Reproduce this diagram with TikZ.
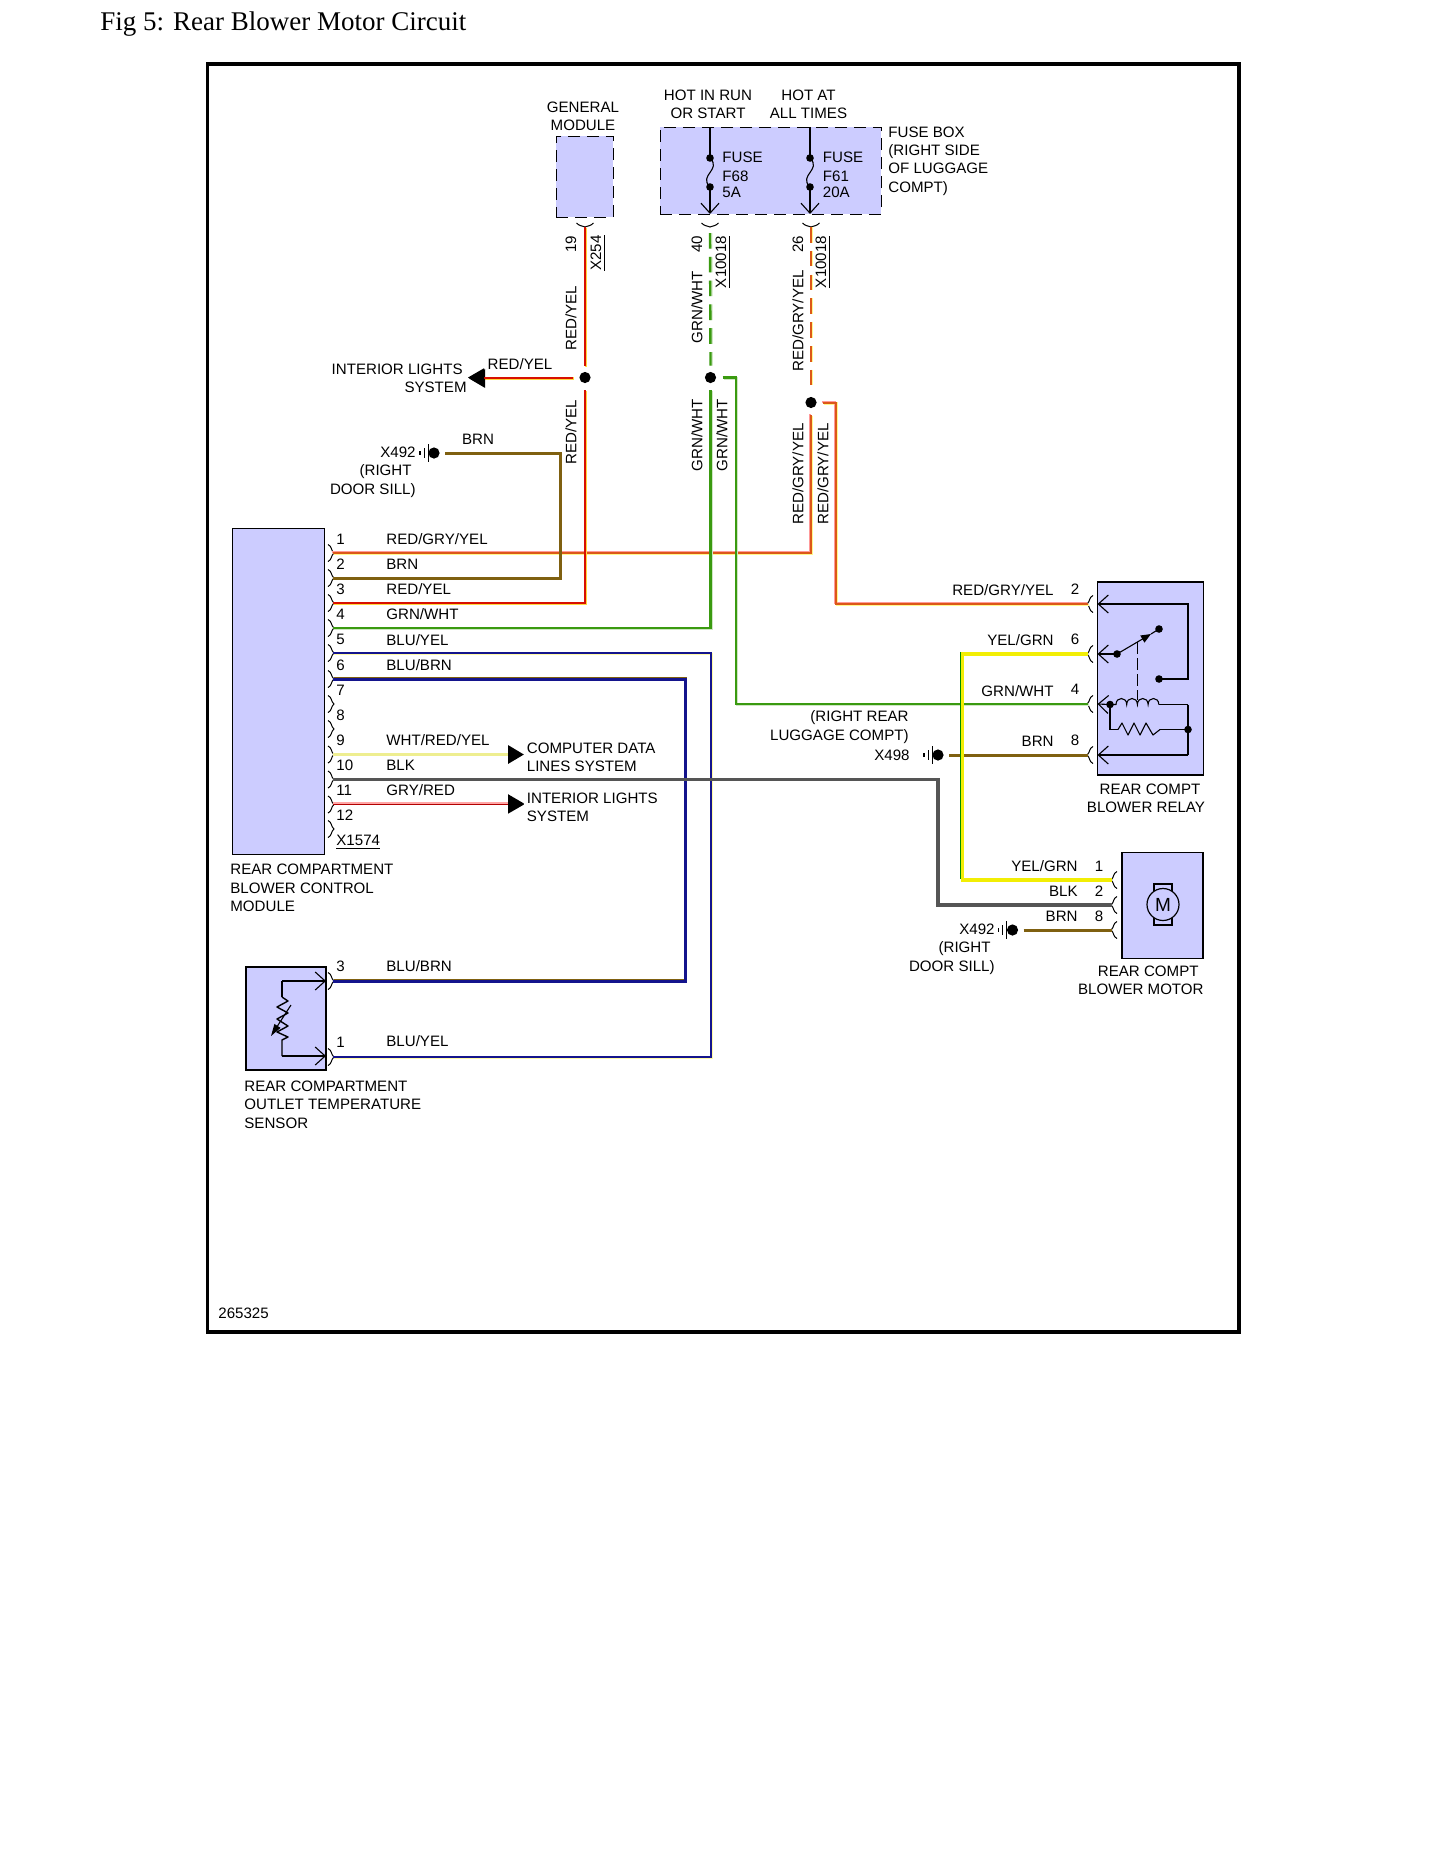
\documentclass[tikz,border=0pt]{standalone}
\usepackage{fontspec}
\setmainfont{Liberation Sans}
\newfontfamily\titlefont{Liberation Serif}
\usetikzlibrary{arrows.meta}

\definecolor{boxfill}{HTML}{CCCCFF}
\definecolor{cred}{HTML}{D81000}
\definecolor{cyel}{HTML}{FFD840}
\definecolor{corg}{HTML}{DC5818}
\definecolor{cbrn}{HTML}{7F6010}
\definecolor{cgrn}{HTML}{3A9A10}
\definecolor{cblu}{HTML}{14148C}
\definecolor{cblk}{HTML}{555555}
\definecolor{cpale}{HTML}{EEEE90}

\tikzset{
  txt/.style={inner sep=0pt,font=\fontsize{7.55}{9.2}\selectfont},
  modbox/.style={draw=black,line width=0.55pt,fill=boxfill,anchor=north west,inner sep=0pt,outer sep=0pt},
  dashbox/.style={modbox,line width=0.5pt,dash pattern={on 6pt off 3.5pt}},
  jdot/.style={circle,fill=black,inner sep=0pt,minimum size=5.6pt,outer sep=3.2pt},
  gdot/.style={circle,fill=black,inner sep=0pt,minimum size=5.6pt,outer sep=2.8pt},
  sdot/.style={circle,fill=black,inner sep=0pt,minimum size=3.8pt},
  inner/.style={draw=black,line width=0.55pt},
  innerb/.style={draw=black,line width=0.9pt},
  barb/.style={-{Straight Barb[length=5pt,width=9pt]}},
  sysarrow/.style={-{Triangle[length=8pt,width=9pt,color=black]}},
  wdash/.style={dash pattern={on 7.8pt off 4.1pt}},
  wredyel/.style={draw=cred,line width=1pt,preaction={draw=cyel,line width=1.4pt,transform canvas={xshift=0.5pt,yshift=-0.5pt}}},
  wredgry/.style={draw=corg,line width=1pt,preaction={draw=yellow!45,line width=1.3pt,transform canvas={xshift=0.5pt,yshift=-0.5pt}},preaction={draw=red!40,line width=1pt,transform canvas={xshift=-0.4pt,yshift=0.4pt}}},
  wreddash/.style={draw=corg,line width=1pt,wdash,preaction={draw=yellow!45,line width=1.3pt,wdash,transform canvas={xshift=0.5pt}}},
  wbrn/.style={draw=cbrn,line width=1.5pt},
  wgrnwht/.style={draw=cgrn,line width=1.2pt,preaction={draw=cgrn!25,line width=1.4pt,transform canvas={xshift=0.5pt,yshift=-0.5pt}}},
  wgrndash/.style={draw=cgrn,line width=1.2pt,wdash,preaction={draw=cgrn!25,line width=1.4pt,wdash,transform canvas={xshift=0.5pt}}},
  wbluyel/.style={draw=cblu,line width=1.3pt,preaction={draw=yellow!35,line width=1.4pt,transform canvas={xshift=0.5pt,yshift=-0.5pt}}},
  wblubrn/.style={draw=cblu,line width=1.5pt,preaction={draw=cbrn,line width=1pt,transform canvas={xshift=0.3pt,yshift=0.5pt}}},
  wwhtred/.style={draw=cpale,line width=1.6pt},
  wblk/.style={draw=cblk,line width=1.6pt},
  wgryred/.style={draw=red!70!black,line width=0.9pt,preaction={draw=red!35,line width=1.2pt,transform canvas={yshift=0.5pt}}},
  wyelgrn/.style={draw=yellow!95!green,line width=1.6pt,preaction={draw=green!55!black,line width=0.9pt,transform canvas={xshift=-0.8pt,yshift=0.8pt}}},
  pinr/.pic={\draw[line width=0.5pt] (-5,-8.5) .. controls (-1,-7) and (-2,-2) .. (1,0) .. controls (-2,2) and (-1,7) .. (-5,8.5);},
  pinl/.pic={\draw[line width=0.5pt] (5,-8.5) .. controls (1,-7) and (2,-2) .. (-1,0) .. controls (2,2) and (1,7) .. (5,8.5);},
  pinb/.pic={\draw[line width=0.5pt] (-8.5,-4) .. controls (-6,-1) and (-2,-1) .. (0,0) .. controls (2,-1) and (6,-1) .. (8.5,-4);},
  gndbars/.pic={\draw[line width=0.5pt] (-6,-9) -- (-6,9);\draw[line width=0.5pt] (-10,-5) -- (-10,5);\draw[line width=0.9pt] (-14,-2) -- (-14,2);},
}

\begin{document}
\begin{tikzpicture}[x=0.5pt,y=-0.5pt]
\path[use as bounding box,fill=white] (0,0) rectangle (1445,1870);

%Frame and title
\node[draw=black,line width=1.8pt,anchor=north west,inner sep=0pt,minimum width=515.9pt,minimum height=634pt] (frame) at (205.5,62) {};
\node[inner sep=0pt,anchor=west,font=\fontsize{13.5}{16}\titlefont] (title) at (100,24.5) {Fig 5: Rear Blower Motor Circuit};
\node[txt,anchor=west] (code) at (218,1313) {265325};

%Boxes
\node[modbox,minimum width=46pt,minimum height=163pt] (module) at (232.5,528.5) {};
\node[dashbox,minimum width=28.5pt,minimum height=40.5pt] (general) at (556,136) {};
\node[dashbox,minimum width=110.5pt,minimum height=43.5pt] (fusebox) at (660,127) {};
\node[modbox,minimum width=53pt,minimum height=96.5pt] (relay) at (1097.5,582) {};
\node[modbox,minimum width=40.5pt,minimum height=53pt] (motor) at (1122,852.5) {};
\node[modbox,line width=0.9pt,minimum width=40pt,minimum height=51.5pt] (sensor) at (246,967) {};

%Pins of the control module
\foreach \n/\yy in {1/553,2/578,3/603,4/628,5/653,6/679,7/704,8/729,9/754.5,10/779.5,11/804.5,12/829}{
  \coordinate (m\n) at (333,\yy);
  \pic at (m\n) {pinr};
  \node[txt,anchor=west] (num\n) at (336,\yy-14) {\n};
}
\foreach \n/\yy in {3/981,1/1057}{
  \coordinate (s\n) at (333,\yy);
  \pic at (s\n) {pinr};
  \node[txt,anchor=west] (snum\n) at (336,\yy-15) {\n};
}
\foreach \n/\yy in {2/604,6/654,4/704,8/755}{
  \coordinate (r\n) at (1088,\yy);
  \pic at (r\n) {pinl};
  \node[txt] (rnum\n) at (1075,\yy-14.5) {\n};
}
\foreach \n/\yy in {1/880,2/905,8/930}{
  \coordinate (mo\n) at (1112,\yy);
  \pic at (mo\n) {pinl};
  \node[txt] (monum\n) at (1099,\yy-14) {\n};
}
\foreach \n/\xx in {g/585,h/710,k/811}{
  \coordinate (p\n) at (\xx,227);
  \pic at (p\n) {pinb};
}
\coordinate (phdash) at (710,233);

%Splices and grounds
\node[jdot] (jred) at (585,377.5) {};
\node[jdot] (jgrn) at (710.5,377.5) {};
\node[jdot] (jorg) at (811,402.5) {};
\node[gdot] (gnd1) at (434,453) {};
\node[gdot] (gnd2) at (938,755) {};
\node[gdot] (gnd3) at (1012.5,930) {};
\pic at (gnd1) {gndbars};
\pic at (gnd2) {gndbars};
\pic at (gnd3) {gndbars};

%Bends and arrow ends
\coordinate (bend2) at (560,500);
\coordinate (bend5) at (711,800);
\coordinate (bend6) at (685,800);
\coordinate (bendg) at (736,500);
\coordinate (bendo) at (836,500);
\coordinate (bendy) at (962.5,800);
\coordinate (bendk) at (938,850);
\coordinate (a0) at (468,377.5);
\coordinate (a9) at (524,754.5);
\coordinate (a11) at (524,804.5);

%Wires
\draw[wredgry] (m1) -| (jorg.south);
\draw[wbrn] (m2) -| (bend2) |- (gnd1.east);
\draw[wredyel] (m3) -| (jred.south);
\draw[wgrnwht] (m4) -| (jgrn.south);
\draw[wbluyel] (m5) -| (bend5) |- (s1);
\draw[wblubrn] (m6) -| (bend6) |- (s3);
\draw[wwhtred,sysarrow] (m9) -- (a9);
\draw[wgryred,sysarrow] (m11) -- (a11);
\draw[wredyel,sysarrow] (jred.west) -- (a0);
\draw[wredyel] (pg) -- (jred.north);
\draw[wgrndash] (phdash) -- (jgrn.north);
\draw[wreddash] (pk) -- (jorg.north);
\draw[wgrnwht] (jgrn.east) -| (bendg) |- (r4);
\draw[wredgry] (jorg.east) -| (bendo) |- (r2);
\draw[wbrn] (gnd2.east) -- (r8);
\draw[wyelgrn] (r6) -| (bendy) |- (mo1);
\draw[wblk] (m10) -| (bendk) |- (mo2);
\draw[wbrn] (gnd3.east) -- (mo8);

%Fuses
\node[sdot] (f68t) at (710,158) {};
\node[sdot] (f68b) at (710,187) {};
\node[sdot] (f61t) at (810,158) {};
\node[sdot] (f61b) at (810,187) {};
\foreach \f in {f68,f61}{
  \draw[inner] (\f t |- fusebox.north) -- (\f t.center);
  \draw[inner] (\f t.center) .. controls +(12,12) and +(-12,-12) .. (\f b.center);
  \draw[inner,barb] (\f b.center) -- (\f b |- fusebox.south);
}

%Relay inside
\node[sdot] (rswitch) at (1117,654) {};
\node[sdot] (rno) at (1159,629) {};
\node[sdot] (rnc) at (1159,679) {};
\node[sdot] (rcoil) at (1110,704.5) {};
\node[sdot] (rres) at (1188,729.5) {};
\coordinate (rcorner) at (1188,604);
\coordinate (rmid) at (1188,704.5);
\coordinate (rlow) at (1188,755);
\draw[inner,barb] (rnc.center) -| (rcorner) -- (relay.west |- r2);
\draw[inner,barb] (rswitch.center) -- (relay.west |- r6);
\draw[inner,-{Triangle[length=5pt,width=4pt]}] (rswitch.center) -- (1151,634);
\draw[inner] (1151,634) -- (rno.center);
\draw[inner,dash pattern={on 6pt off 2pt}] (1137.5,642) -- (1137.5,700);
\draw[inner,barb] (rcoil.center) -- (relay.west |- r4);
\draw[inner] (rcoil.center) -- (1116,704.5) \foreach \k in {1,2,3,4}{.. controls +(0,-8) and +(0,-8) .. ++(10.7,0)};
\draw[innerb] (1158.5,704.5) -- (rmid);
\draw[innerb] (rcoil.center) |- (1118,729.5);
\draw[inner,line join=round] (1118,729.5) -- (1122,723) -- (1128,735) -- (1134,723) -- (1140,735) -- (1146,723) -- (1153,735) -- (1160,729.5);
\draw[innerb] (1160,729.5) -- (rres.center);
\draw[inner] (rmid) -- (rlow);
\draw[inner,barb] (rlow) -- (relay.west |- r8);

%Motor inside
\node[draw=black,line width=0.6pt,rectangle,inner sep=0pt,minimum width=9pt,minimum height=20.5pt] (brush) at (1163,904.5) {};
\node[draw=black,fill=boxfill,line width=0.6pt,circle,inner sep=0pt,minimum size=16pt,font=\fontsize{9.5}{9.5}\selectfont] (mcirc) at (1163,904.5) {M};

%Sensor inside
\coordinate (st) at (282,981);
\coordinate (sb) at (282,1056);
\draw[innerb] (st) -- (282,997);
\draw[inner,barb] (st) -- (sensor.east |- st);
\draw[inner,line width=0.7pt,line join=round] (282,997) -- (288,1001) -- (277,1007) -- (288,1013) -- (277,1019) -- (288,1026) -- (277,1032) -- (288,1037) -- (282,1040) -- (sb);
\draw[inner,barb] (sb) -- (sensor.east |- sb);
\draw[inner,-{Triangle[length=6pt,width=3.5pt]}] (291,1005) -- (271,1036);

% Text Node
\node[txt,align=center] (tgen) at (583,116) {GENERAL\\MODULE};
\node[txt,align=center] (thot1) at (708,104) {HOT IN RUN\\OR START};
\node[txt,align=center] (thot2) at (808.5,104) {HOT AT\\ALL TIMES};
\node[txt,align=left,anchor=west] (tfusebox) at (888,161) {FUSE BOX\\(RIGHT SIDE\\OF LUGGAGE\\COMPT)};
\node[txt,align=left,anchor=west] (tf68) at (722,175) {FUSE\\[0.3pt]F68\\[-1.2pt]5A};
\node[txt,align=left,anchor=west] (tf61) at (822.5,175) {FUSE\\[0.3pt]F61\\[-1.2pt]20A};
% Text Node
\node[txt,rotate=90] (t19) at (571,244) {19};
\node[txt,rotate=90] (tx254) at (598,253) {\underline{X254}};
\node[txt,rotate=90] (try1) at (571,318) {RED/YEL};
\node[txt,rotate=90] (try2) at (571,432) {RED/YEL};
\node[txt,rotate=90] (t40) at (697,244) {40};
\node[txt,rotate=90] (tgw1) at (697,307) {GRN/WHT};
\node[txt,rotate=90] (tx1) at (723,262) {\underline{X10018}};
\node[txt,rotate=90] (tgw2) at (697,435) {GRN/WHT};
\node[txt,rotate=90] (tgw3) at (722,435) {GRN/WHT};
\node[txt,rotate=90] (t26) at (798,244) {26};
\node[txt,rotate=90] (trg1) at (798,321) {RED/GRY/YEL};
\node[txt,rotate=90] (tx2) at (823,262) {\underline{X10018}};
\node[txt,rotate=90] (trg2) at (798,474) {RED/GRY/YEL};
\node[txt,rotate=90] (trg3) at (823,474) {RED/GRY/YEL};
% Text Node
\node[txt] (try3) at (520,364) {RED/YEL};
\node[txt,align=right,anchor=east] (tint1) at (467,378) {INTERIOR LIGHTS\kern2pt\\SYSTEM};
\node[txt] (tbrn1) at (478,439) {BRN};
\node[txt,align=right,anchor=north east] (tgnd1) at (416,446.5) {X492\\(RIGHT\kern2pt\\DOOR SILL)};
% Text Node
\foreach \n/\yy/\s in {1/539/RED\slash GRY\slash YEL,2/564/BRN,3/589/RED\slash YEL,4/614/GRN\slash WHT,5/640/BLU\slash YEL,6/665/BLU\slash BRN,9/740/WHT\slash RED\slash YEL,10/765/BLK,11/790/GRY\slash RED}{
  \node[txt,anchor=west] (col\n) at (386,\yy) {\s};
}
\node[txt,anchor=west] (tx1574) at (336,842) {\underline{X1574}};
\node[txt,align=left,anchor=west] (tmodule) at (230,888) {REAR COMPARTMENT\\BLOWER CONTROL\\MODULE};
\node[txt,anchor=west] (tblb) at (386,966) {BLU/BRN};
\node[txt,anchor=west] (tbly) at (386,1041) {BLU/YEL};
\node[txt,align=left,anchor=west] (tsensor) at (244,1104.5) {REAR COMPARTMENT\\OUTLET TEMPERATURE\\SENSOR};
\node[txt,align=left,anchor=west] (tcomp) at (526.5,757) {COMPUTER DATA\\LINES SYSTEM};
\node[txt,align=left,anchor=west] (tint2) at (526.5,807) {INTERIOR LIGHTS\\SYSTEM};
% Text Node
\node[txt,anchor=east] (trel2) at (1054,590) {RED/GRY/YEL};
\node[txt,anchor=east] (trel6) at (1054,640) {YEL/GRN};
\node[txt,anchor=east] (trel4) at (1054,691) {GRN/WHT};
\node[txt,anchor=east] (trel8) at (1054,741) {BRN};
\node[txt,align=right,anchor=east] (tlug) at (909,727) {(RIGHT REAR\\LUGGAGE COMPT)};
\node[txt,anchor=east] (tx498) at (910,755) {X498};
\node[txt,align=center] (trelay) at (1146,798) {\kern4pt REAR COMPT\\BLOWER RELAY};
\node[txt,anchor=east] (tmo1) at (1078,866) {YEL/GRN};
\node[txt,anchor=east] (tmo2) at (1078,891) {BLK};
\node[txt,anchor=east] (tmo8) at (1078,916) {BRN};
\node[txt,align=right,anchor=north east] (tgnd3) at (995,923.5) {X492\\(RIGHT\kern2pt\\DOOR SILL)};
\node[txt,align=right,anchor=east] (tmotor) at (1204,980) {REAR COMPT\kern2.5pt\\BLOWER MOTOR};
\end{tikzpicture}
\end{document}
